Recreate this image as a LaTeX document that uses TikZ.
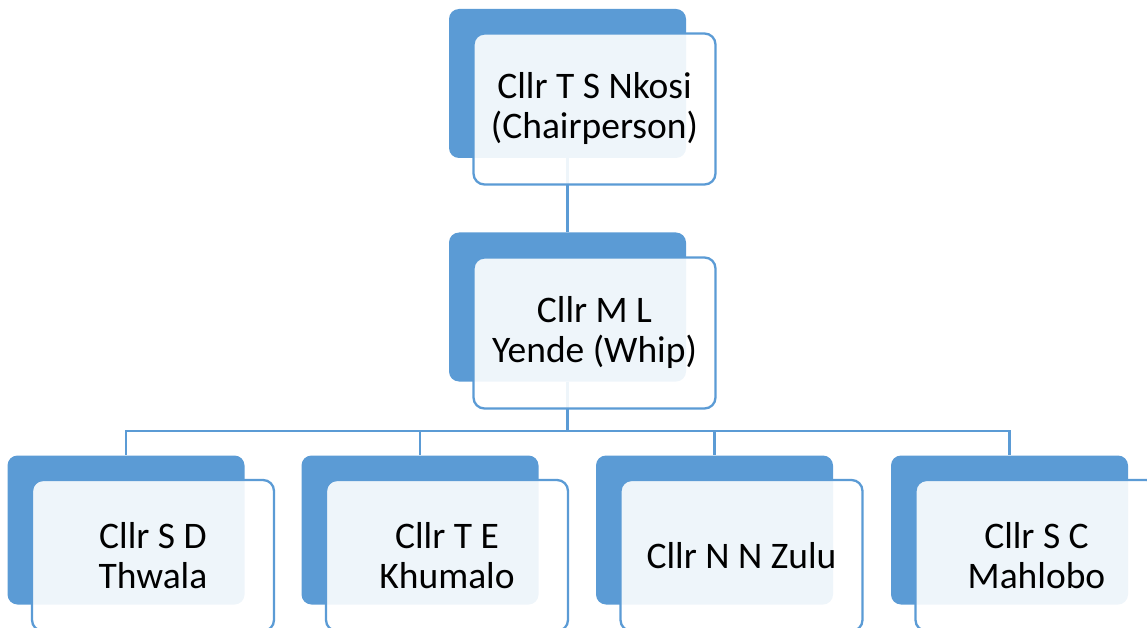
\documentclass[tikz,border=0pt]{standalone}
\usepackage{fontspec}
\setmainfont{Carlito}
\definecolor{ob}{HTML}{5B9BD5}
\begin{document}
\begin{tikzpicture}[x=1pt,y=-1pt,
 back/.style={fill=ob, rounded corners=10pt, minimum width=237pt, minimum height=149pt, inner sep=0pt},
 front/.style={fill=white, fill opacity=0.9, text opacity=1, draw=ob, line width=2.3pt, rounded corners=11pt, minimum width=242pt, minimum height=151pt, align=center, font=\fontsize{37.5}{40}\selectfont, inner sep=0pt},
 conn/.style={draw=ob, line width=2.3pt}]
\useasboundingbox (0,0) rectangle (1147,628);
\clip (0,0) rectangle (1147,628);
% back boxes
\node[back] (b1) at (567.5,83.5) {};
\node[back] (b2) at (567.5,307) {};
\node[back] (b3) at (126,530) {};
\node[back] (b4) at (420,530) {};
\node[back] (b5) at (714.5,530) {};
\node[back] (b6) at (1009.5,530) {};
% connectors
\draw[conn] (b1.south) -- (b2.north);
\draw[conn] (b2.south) -- ++(0,49) coordinate (j);
\foreach \n in {b3,b4,b5,b6} \draw[conn] (j) -| (\n.north);
% front boxes
\node[front] (f1) at (594.5,109) {Cllr T S Nkosi\\(Chairperson)};
\node[front] (f2) at (594.5,333) {Cllr M L\\Yende (Whip)};
\node[front] (f3) at (153,555.5) {Cllr S D\\Thwala};
\node[front] (f4) at (447,555.5) {Cllr T E\\Khumalo};
\node[front] (f5) at (741.5,555.5) {Cllr N N Zulu};
\node[front] (f6) at (1036.5,555.5) {Cllr S C\\Mahlobo};
\end{tikzpicture}
\end{document}
